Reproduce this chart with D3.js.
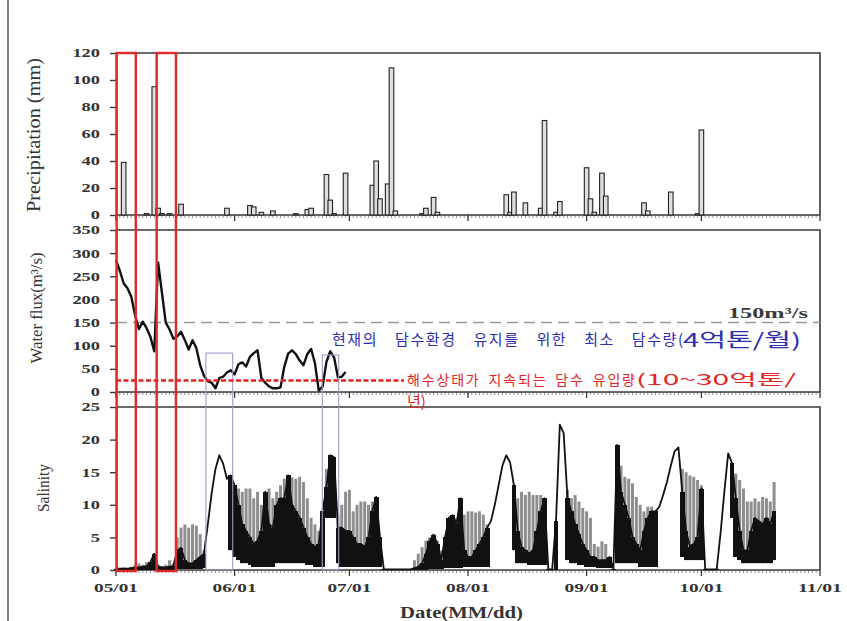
<!DOCTYPE html>
<html><head><meta charset="utf-8">
<script src="https://cdn.jsdelivr.net/npm/d3@7"></script>
<style>body{margin:0;background:#fff} svg{display:block}</style>
</head><body>
<svg id="chart" width="847" height="621"></svg>
<script>
// ---------------- data ----------------
const startDate = "2013-05-01";
const endDate = "2013-11-01";
const monthTickLabels = ["05/01","06/01","07/01","08/01","09/01","10/01","11/01"];

const precipDates = ["05-03","05-09","05-11","05-12","05-13","05-15","05-18","05-30","06-05","06-06","06-08","06-11","06-17","06-20","06-21","06-25","06-26","06-27","06-30","07-07","07-08","07-09","07-11","07-12","07-13","07-20","07-21","07-23","07-24","08-11","08-12","08-13","08-16","08-20","08-21","08-24","08-25","09-01","09-02","09-03","09-05","09-06","09-16","09-17","09-23","09-30","10-01"];
const precipValues = [39,1,95,5,1,1,8,5,7,6,2,3,1,4,5,30,11,1,31,22,40,12,23,109,3,1,5,13,2,15,2,17,9,5,70,2,10,35,12,2,31,14,9,3,17,1,63];
const precipTicks = [0,20,40,60,80,100,120];

// daily water flux from 05/01
const fluxValues = [285,262,235,224,206,165,136,152,138,119,88,280,215,150,135,115,120,130,112,92,112,95,58,35,23,20,8,30,33,42,47,38,60,64,55,76,84,90,30,20,12,8,8,10,55,83,90,82,68,58,82,93,62,3,12,65,88,75,32,33,43];
const fluxTicks = [0,50,100,150,200,250,300,350];
const fluxRequired = 150;   // m3/s
const fluxSeawater = 25;

// daily salinity from 05/01: lower envelope, black upper, gray upper
const salLow = [0,0,0,0,0,0,0,0,0,0,0,0,0,0,0,0,0.2,0.2,0.2,0.2,0.2,0.2,0.2,0.3,7,11.8,15.5,17.6,16.3,14,3,2,1.5,1,1,0.8,0.5,0.5,0.5,0.5,0.5,0.5,1,1,1,1,1,1,1,1,0.8,0.8,0.5,0.5,0.5,8,8,8,1,0.5,0.5,0.5,0.5,0.5,0.5,0.5,0.5,0.5,0.5,0.5,0,0,0,0,0,0,0,0,0,0,0,0,0.2,0.2,0.2,0.2,0.3,0.3,0.3,0.3,0.3,0.5,0.5,0.5,0.5,0.5,0.5,0.5,7.5,10,13,16,17.6,16.5,3,1,1,1,0.8,0.8,0.8,0.8,0.8,0,0,0,22.3,21,1.5,1,1,0.8,0.8,0.5,0.5,0.5,0.3,0.3,0.3,0.3,0,1,1,1,1,1,1,0.5,0.5,0.5,0.5,0.5,9.7,11.5,13.5,16,18.2,18.8,2,1.5,1.5,1.5,1.5,1.5,0,0,0,0,5.6,12,17.9,8,2,1.5,1,1,1,1,1,1,1,1,1.5];
const salBlack = [0.2,0.2,0.2,0.2,0.3,0.4,0.4,0.5,0.6,1.2,2.5,0.5,0.4,0.4,0.5,0.6,3,3.4,1.5,1,1,1.5,2,2.5,7,11.8,15.5,17.6,16.3,14,14.5,13,10,7,6,5,4,4.5,6,12,7,6.5,10,11,11,14.5,10,9,8,6.5,5,4,3.5,4,9,12.8,17.6,17.3,6.5,6.5,6,6,5,4,4,3.5,5,9,11.2,5,0.1,0.1,0.1,0.1,0.1,0.1,0.1,0.1,0.3,0.5,1,2.5,4.5,5.4,4,1.5,5,8,8.4,7,11,3,2,2,3,4,5,6.5,7.5,10,13,16,17.6,16.5,13,6,3.5,3,2.5,3,6,9,11,0.1,0.1,7.5,22.3,21,11,9,7,5.5,4,3,2,2,1.5,1.5,1.5,2,0.2,19.2,12,10,8,5,4,3,6,8,9,9,9.7,11.5,13.5,16,18.2,18.8,12,6,3.6,4,5,12.5,0.1,0.1,0.1,0.1,5.6,12,17.9,16.4,11,6,3,3,6,8,7.5,7,8,7,9];
const salGray = [0.3,0.3,0.4,0.3,0.5,0.8,1,0.8,1.2,1,1.5,0.8,0.6,0.8,1.5,1,5,6.5,7,6.5,7,6.8,5.5,3,7,11.8,15.5,17.6,16.3,14,14.5,13,12.5,12,12.5,12.5,11,12,10,11,12.5,11,12,13,14,13.5,14.2,14,14.3,13.5,11,8,7,6,5,15.5,17.5,17,8.5,10,12,12.3,9,10,10.5,10.5,10,10.5,8,4,0.1,0.1,0.1,0.1,0.1,0.1,0.1,0.1,1.5,2.5,3.5,4.5,5,5.5,4.5,3,5,6,7,8,6,8.5,9,9,8.8,9,8.5,7,7.5,10,13,16,17.6,16.5,13,11,12,11.5,12,11.5,11.5,11.5,10,0.1,0.1,0.1,22.3,21,12.3,11,11.5,10.5,9.5,9,8,4,3.6,4.4,4,2,0.2,16,16,14.3,14,13.3,11.2,10,9,9.7,9.7,8,9.7,11.5,13.5,16,18.2,18.8,15.5,15,14.5,14.3,13.8,13,0.1,0.1,0.1,0.1,5.6,12,17.9,16.4,14.8,13.8,12.5,10.5,10.5,11,10.5,11.2,11,10.5,13.5];
const salTicks = [0,5,10,15,20,25];

const redPeriods = [["2013-05-01T04:00","2013-05-06T04:00"],["2013-05-11T15:00","2013-05-16T16:00"]];
const bluePeriods = [["2013-05-24T12:00","2013-05-31T12:00"],["2013-06-23T22:00","2013-06-28T05:00"]];
const blueTops = [84, 80];

// ---------------- drawing ----------------
const svg = d3.select("#chart");
const parseD = d3.utcParse("%Y-%m-%d");
const parseT = d3.utcParse("%Y-%m-%dT%H:%M");
const t0 = parseD(startDate), t1 = parseD(endDate);
const x = d3.scaleUtc().domain([t0, t1]).range([116, 820]);
const dayW = x(d3.utcDay.offset(t0, 1)) - x(t0);
const dayAt = i => d3.utcDay.offset(t0, i);

const yP = d3.scaleLinear().domain([0,120]).range([215,53]);
const yF = d3.scaleLinear().domain([0,350]).range([392,230]);
const yS = d3.scaleLinear().domain([0,25]).range([570,407]);

const serif = "'Liberation Serif','Times New Roman',serif";
const frameColor = "#3a3a3a";

// outer left border of picture
svg.append("line").attr("x1",8).attr("x2",8).attr("y1",0).attr("y2",621)
  .attr("stroke","#555").attr("stroke-width",1.5);

function panel(y, ticks) {
  const g = svg.append("g");
  const [yb, yt] = y.range();
  g.append("path").attr("d", `M${x.range()[0]},${yt}H${x.range()[1]}V${yb}`)
    .attr("fill","none").attr("stroke",frameColor).attr("stroke-width",1.6);
  g.selectAll("line.minor").data(d3.utcDay.range(t0, t1)).join("line")
    .attr("x1", d => x(d)).attr("x2", d => x(d)).attr("y1", yb).attr("y2", yb + 3)
    .attr("stroke","#666").attr("stroke-width",0.7);
  g.selectAll("line.major").data(d3.utcMonth.range(t0, d3.utcDay.offset(t1,1))).join("line")
    .attr("x1", d => x(d)).attr("x2", d => x(d)).attr("y1", yb).attr("y2", yb + 6)
    .attr("stroke",frameColor).attr("stroke-width",1.3);
  g.append("line").attr("x1",x.range()[0]).attr("x2",x.range()[1]).attr("y1",yb).attr("y2",yb)
    .attr("stroke",frameColor).attr("stroke-width",1.6);
  const ax = g.append("g").attr("transform",`translate(${x.range()[0]},0)`)
    .call(d3.axisLeft(y).tickValues(ticks).tickSize(6).tickSizeOuter(0).tickPadding(10));
  ax.select(".domain").attr("stroke",frameColor).attr("stroke-width",1.6);
  ax.selectAll(".tick line").attr("stroke",frameColor).attr("stroke-width",1.4);
  ax.selectAll(".tick text").attr("font-family",serif).attr("font-size",11.5)
    .attr("font-weight","bold").attr("fill","#333").attr("dy","0.34em")
    .attr("textLength", d => 9.2*String(d).length).attr("lengthAdjust","spacingAndGlyphs");
  return g;
}
panel(yP, precipTicks);
panel(yF, fluxTicks);
panel(yS, salTicks);

// x tick labels
svg.append("g").selectAll("text").data(d3.utcMonth.range(t0, d3.utcDay.offset(t1,1))).join("text")
  .attr("x", d => x(d)).attr("y", 592).attr("text-anchor","middle")
  .attr("font-family",serif).attr("font-size",13).attr("font-weight","bold").attr("fill","#333")
  .attr("textLength",44).attr("lengthAdjust","spacingAndGlyphs")
  .text((d,i) => monthTickLabels[i]);

// precipitation bars
const bw = dayW * 1.2;
svg.append("g").selectAll("rect").data(precipDates.map((d,i)=>({d:parseD("2013-"+d), v:precipValues[i]})))
  .join("rect")
  .attr("x", d => x(d.d) - bw/2).attr("width", bw)
  .attr("y", d => yP(d.v)).attr("height", d => yP(0) - yP(d.v))
  .attr("fill","#dedede").attr("stroke","#222").attr("stroke-width",1.1);

// water flux reference line (150)
svg.append("line").attr("x1",x.range()[0]).attr("x2",x.range()[1])
  .attr("y1",yF(fluxRequired)).attr("y2",yF(fluxRequired))
  .attr("stroke","#9a9a9a").attr("stroke-width",1.6).attr("stroke-dasharray","11,6");

// water flux line
svg.append("path").datum(fluxValues)
  .attr("d", d3.line().x((d,i)=>x(dayAt(i))).y(d=>yF(d)))
  .attr("fill","none").attr("stroke","#111").attr("stroke-width",2.4).attr("stroke-linejoin","round");

// salinity
const sal = salLow.map((lo,i)=>({d:dayAt(i), lo, b:salBlack[i], g:salGray[i]}));
const gw = dayW*0.78, kw = dayW*1.25;
svg.append("g").selectAll("rect").data(sal.filter(s=>s.g>s.lo)).join("rect")
  .attr("x", s => x(s.d)-gw/2).attr("width", gw)
  .attr("y", s => yS(s.g)).attr("height", s => yS(s.lo)-yS(s.g))
  .attr("fill","#8e8e8e");
svg.append("g").attr("shape-rendering","crispEdges")
  .selectAll("rect").data(sal.filter(s=>s.b>s.lo)).join("rect")
  .attr("x", s => x(s.d)-kw/2).attr("width", kw)
  .attr("y", s => yS(s.b)).attr("height", s => yS(s.lo)-yS(s.b))
  .attr("fill","#111");
svg.append("path").datum(sal)
  .attr("d", d3.line().x(s=>x(s.d)).y(s=>yS(s.b)))
  .attr("fill","none").attr("stroke","#111").attr("stroke-width",1.8).attr("stroke-linejoin","round");

// blue thin rectangles
bluePeriods.forEach((p,i)=>{
  const xa = x(parseT(p[0])), xb = x(parseT(p[1]));
  svg.append("rect").attr("x",xa).attr("width",xb-xa)
    .attr("y",yF(blueTops[i])).attr("height",yS(0)-yF(blueTops[i]))
    .attr("fill","none").attr("stroke","#9c9cc8").attr("stroke-width",1.1);
});

// red dashed seawater line
svg.append("line").attr("x1",x.range()[0]).attr("x2",404)
  .attr("y1",yF(fluxSeawater)).attr("y2",yF(fluxSeawater))
  .attr("stroke","#e42525").attr("stroke-width",2.4).attr("stroke-dasharray","5,2.5");

// red rectangles
redPeriods.forEach(p=>{
  const xa = x(parseT(p[0])), xb = x(parseT(p[1]));
  svg.append("rect").attr("x",xa).attr("width",xb-xa)
    .attr("y",yP(120)).attr("height",yS(0)+1-yP(120))
    .attr("fill","none").attr("stroke","#e02a2a").attr("stroke-width",2.4);
});

// annotations
svg.append("text").attr("x",728).attr("y",318)
  .attr("font-family",serif).attr("font-size",15).attr("font-weight","bold").attr("fill","#3a3a3a")
  .attr("textLength",80).attr("lengthAdjust","spacingAndGlyphs").text("150m³/s");

const kr = "'Noto Sans CJK KR','Noto Sans CJK SC',sans-serif";
svg.append("text").attr("x",332).attr("y",344.5)
  .attr("font-family",kr).attr("font-size",15).attr("fill","#2d2db0")
  .style("word-spacing","12px").attr("textLength",351).attr("lengthAdjust","spacing")
  .text("현재의 담수환경 유지를 위한 최소 담수량(");
svg.append("text").attr("x",683).attr("y",347)
  .attr("font-family",kr).attr("font-size",19).attr("fill","#2d2db0")
  .attr("textLength",118).attr("lengthAdjust","spacingAndGlyphs").text("4억톤/월)");

svg.append("text").attr("x",407).attr("y",384.5)
  .attr("font-family",kr).attr("font-size",14).attr("fill","#e42525")
  .style("word-spacing","3px").attr("textLength",228).attr("lengthAdjust","spacing")
  .text("해수상태가 지속되는 담수 유입량");
svg.append("text").attr("x",636).attr("y",384.5)
  .attr("font-family",kr).attr("font-size",15).attr("fill","#e42525")
  .attr("textLength",160).attr("lengthAdjust","spacingAndGlyphs").text("(10~30억톤/");
svg.append("text").attr("x",407).attr("y",407)
  .attr("font-family",kr).attr("font-size",15).attr("fill","#e42525").text("년)");

// axis titles
function ytitle(txt, cx, cy, size, len) {
  svg.append("text").attr("transform",`translate(${cx},${cy}) rotate(-90)`)
    .attr("text-anchor","middle").attr("dominant-baseline","central")
    .attr("font-family",serif).attr("font-size",size).attr("fill","#333")
    .attr("textLength",len).attr("lengthAdjust","spacingAndGlyphs").text(txt);
}
ytitle("Precipitation (mm)", 34, 135, 18, 154);
ytitle("Water flux(m³/s)", 36, 308, 16, 111);
ytitle("Salinity", 43, 488, 17, 48);

svg.append("text").attr("x",400).attr("y",618)
  .attr("font-family",serif).attr("font-size",16).attr("font-weight","bold").attr("fill","#333")
  .attr("textLength",123).attr("lengthAdjust","spacingAndGlyphs").text("Date(MM/dd)");
</script>
</body></html>
